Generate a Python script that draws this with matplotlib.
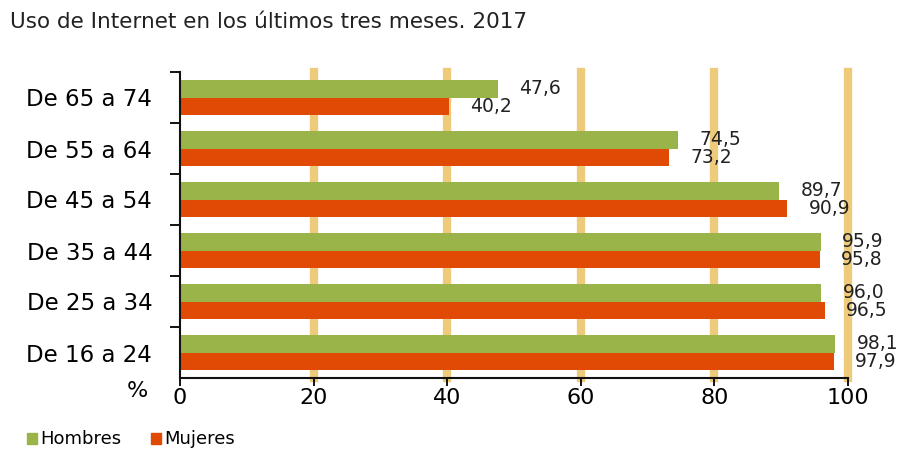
import matplotlib
matplotlib.use("Agg")
import matplotlib.pyplot as plt
from matplotlib.patches import Patch

# Data: share of people who used the Internet in the last three months (2017)
age_groups = ["De 16 a 24", "De 25 a 34", "De 35 a 44", "De 45 a 54", "De 55 a 64", "De 65 a 74"]
hombres = [98.1, 96.0, 95.9, 89.7, 74.5, 47.6]
mujeres = [97.9, 96.5, 95.8, 90.9, 73.2, 40.2]
x_ticks = [0, 20, 40, 60, 80, 100]

GREEN = "#9BB44A"
ORANGE = "#E04A05"
GRID = "#EECB7A"

plt.rcParams["font.family"] = ["DejaVu Sans"]

fig = plt.figure(figsize=(9.06, 4.49), dpi=100)
ax = fig.add_axes([180 / 906, 1 - 378 / 449, (848 - 180) / 906, (378 - 72) / 449])

ypos = list(range(len(age_groups)))
h = 0.35
ax.barh([y + h / 2 for y in ypos], hombres, height=h, color=GREEN, zorder=2)
ax.barh([y - h / 2 for y in ypos], mujeres, height=h, color=ORANGE, zorder=2)

# vertical guide bands
for gx in x_ticks[1:]:
    ax.axvline(gx, color=GRID, lw=6, zorder=0, clip_on=False)

# value labels with comma decimals
for y, v in zip(ypos, hombres):
    ax.text(v + 3.2, y + h / 2, f"{v:.1f}".replace(".", ","), va="center", ha="left",
            fontsize=13.5, color="#222222", zorder=3)
for y, v in zip(ypos, mujeres):
    ax.text(v + 3.2, y - h / 2, f"{v:.1f}".replace(".", ","), va="center", ha="left",
            fontsize=13.5, color="#222222", zorder=3)

ax.set_xlim(0, 100)
ax.set_ylim(-0.5, len(age_groups) - 0.5)

ax.set_xticks(x_ticks)
ax.set_xticklabels([str(t) for t in x_ticks], fontsize=16)
ax.tick_params(axis="x", direction="out", length=6, width=1.3, pad=1)

ax.set_yticks(ypos)
ax.set_yticklabels(age_groups, fontsize=16.5)
ax.tick_params(axis="y", which="major", length=0, pad=20)
ax.set_yticks([y + 0.5 for y in ypos], minor=True)
ax.tick_params(axis="y", which="minor", direction="out", length=7, width=1.3)

for s in ["top", "right"]:
    ax.spines[s].set_visible(False)
for s in ["left", "bottom"]:
    ax.spines[s].set_linewidth(1.5)
    ax.spines[s].set_color("#111111")

fig.text(10 / 906, 1 - 22 / 449, "Uso de Internet en los últimos tres meses. 2017",
         fontsize=15.5, ha="left", va="center", color="#222222")
fig.text(137 / 906, 1 - 391 / 449, "%", fontsize=16, ha="center", va="center")

handles = [Patch(color=GREEN, label="Hombres"), Patch(color=ORANGE, label="Mujeres")]
fig.legend(handles=handles, loc="lower left", bbox_to_anchor=(0.012, -0.035), ncol=2,
           frameon=False, fontsize=13, handlelength=0.55, handleheight=0.55,
           handletextpad=0.2, columnspacing=1.6)

fig.savefig("out.png", dpi=100)
